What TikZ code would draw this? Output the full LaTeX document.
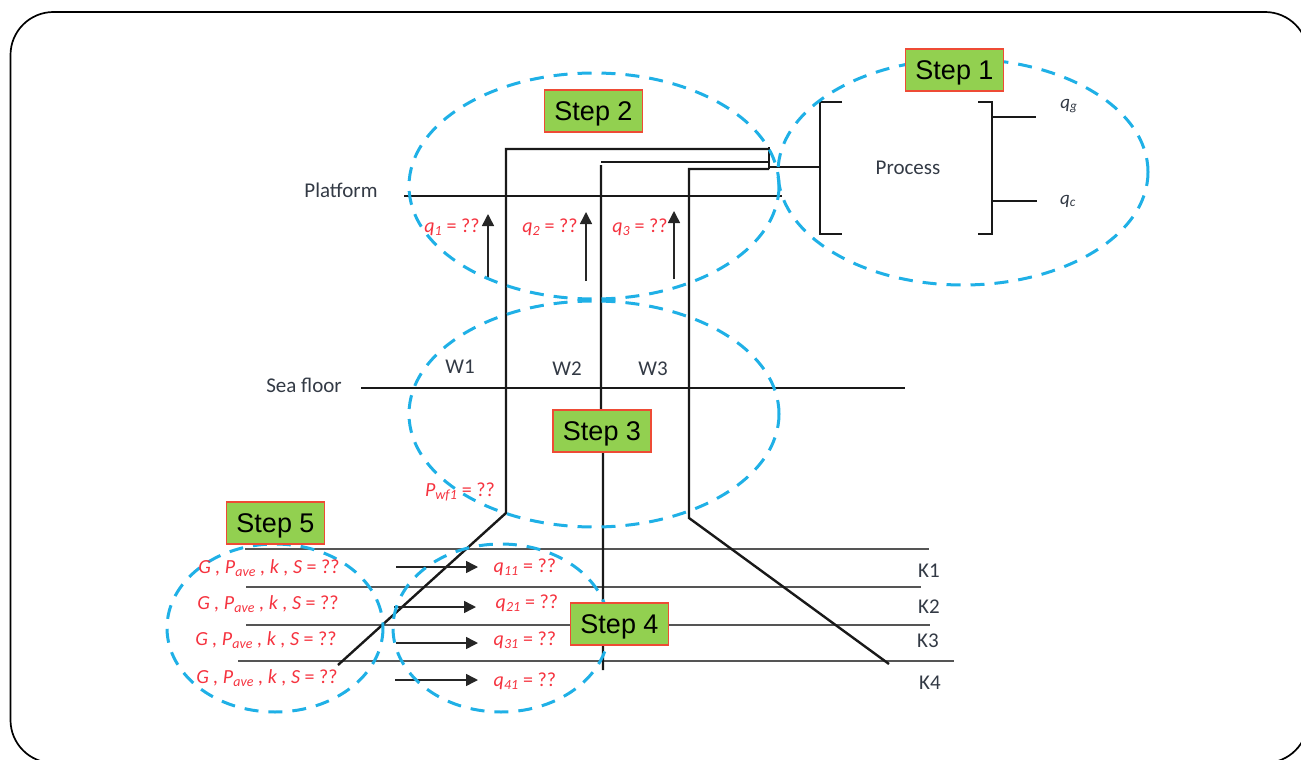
\documentclass[tikz,border=0pt]{standalone}
\usepackage{fontspec}
\setmainfont{Carlito}
\newfontfamily\stepfont{Liberation Sans}
\usetikzlibrary{arrows.meta}
\definecolor{stepgreen}{HTML}{92D050}
\definecolor{stepred}{HTML}{EE4B35}
\definecolor{dashblue}{HTML}{1FB0E6}
\definecolor{labred}{HTML}{F5333F}
\definecolor{kgray}{HTML}{555555}
\definecolor{inkdark}{HTML}{333A45}
\tikzset{
  x=1pt,y=-1pt,
  stepellipse/.style={draw=dashblue,line width=3pt,dash pattern=on 14pt off 10pt},
  stepbox/.style={draw=stepred,fill=stepgreen,line width=1.2pt,minimum width=98pt,minimum height=42pt,inner sep=0pt,text depth=0pt,font=\stepfont\fontsize{27}{29}\selectfont,text=black},
  pipe/.style={draw=black!90,line width=2.4pt},
  kline/.style={draw=kgray,line width=1.8pt},
  thin arrow/.style={draw=black!85,line width=1.5pt,-{Triangle[length=12pt,width=12pt]}},
  redlab/.style={text=labred,font=\itshape\fontsize{20}{22}\selectfont,inner sep=0pt},
  inklab/.style={text=inkdark,font=\fontsize{21}{23}\selectfont,inner sep=0pt},
  smalllab/.style={text=inkdark,font=\itshape\fontsize{19}{21}\selectfont,inner sep=0pt},
}
\newcommand{\eqq}{\textup{ = ??}}
\newcommand{\gline}{G , P\textsubscript{ave} , k , S\eqq}
\begin{document}
\begin{tikzpicture}
\useasboundingbox (0,0) rectangle (1301,760);
\begin{scope}
\clip (0,0) rectangle (1301,760);
\draw[black,line width=1.7pt,rounded corners=43pt] (10.5,12) rectangle (1308,763);
\end{scope}
% gray layer lines
\coordinate (k1a) at (245,549); \coordinate (k1b) at (929,549);
\coordinate (k2a) at (246,587); \coordinate (k2b) at (921,587);
\coordinate (k3a) at (246,625); \coordinate (k3b) at (930,625);
\coordinate (k4a) at (238,661); \coordinate (k4b) at (954,661);
\draw[kline] (k1a) -- (k1b);
\draw[kline] (k2a) -- (k2b);
\draw[kline] (k3a) -- (k3b);
\draw[kline] (k4a) -- (k4b);
% platform and sea floor
\coordinate (pa) at (404,196); \coordinate (pb) at (782,196);
\coordinate (sa) at (361,388); \coordinate (sb) at (905,388);
\draw[pipe] (pa) -- (pb);
\draw[pipe] (sa) -- (sb);
% manifold
\coordinate (mt) at (769,147); \coordinate (mb) at (769,169); \coordinate (mo) at (769,167);
\coordinate (lt) at (842,102); \coordinate (lb) at (842,234);
\coordinate (rt) at (978,102); \coordinate (rb) at (978,234);
\draw[pipe] (mt) -- (mb);
\draw[pipe] (mo) -- (820,167);
\draw[pipe] (lt) -- (820,102) -- (820,234) -- (lb);
\draw[pipe] (rt) -- (992,102) -- (992,234) -- (rb);
\coordinate (qga) at (992,117); \coordinate (qgb) at (1036,117);
\coordinate (qca) at (992,201); \coordinate (qcb) at (1037,201);
\draw[pipe] (qga) -- (qgb);
\draw[pipe] (qca) -- (qcb);
% wells
\coordinate (w1t) at (769,149); \coordinate (w1k) at (506,513); \coordinate (w1e) at (338,665);
\coordinate (w2t) at (769,162); \coordinate (w2e) at (603,670);
\coordinate (w3t) at (769,169); \coordinate (w3k) at (689,518); \coordinate (w3e) at (889,664);
\draw[pipe] (w1t) -- (506,149) -- (w1k) -- (w1e);
\draw[pipe] (w2t) -- (601,162);
\draw[pipe] (601,165) -- (601,415) -- (603,430) -- (w2e);
\draw[pipe] (w3t) -- (689,169) -- (w3k) -- (w3e);
% arrows
\coordinate (u1a) at (488,278); \coordinate (u1b) at (488,214);
\coordinate (u2a) at (586,281); \coordinate (u2b) at (586,212);
\coordinate (u3a) at (674,279); \coordinate (u3b) at (674,211);
\draw[thin arrow] (u1a) -- (u1b);
\draw[thin arrow] (u2a) -- (u2b);
\draw[thin arrow] (u3a) -- (u3b);
\coordinate (r1a) at (396,567); \coordinate (r1b) at (478,567);
\coordinate (r2a) at (394,607); \coordinate (r2b) at (476,607);
\coordinate (r3a) at (396,643); \coordinate (r3b) at (478,643);
\coordinate (r4a) at (395,680); \coordinate (r4b) at (478,680);
\draw[thin arrow] (r1a) -- (r1b);
\draw[thin arrow] (r2a) -- (r2b);
\draw[thin arrow] (r3a) -- (r3b);
\draw[thin arrow] (r4a) -- (r4b);
% ellipses
\draw[stepellipse] (594,186) ellipse [x radius=185,y radius=113];
\draw[stepellipse] (963,172) ellipse [x radius=185,y radius=113];
\draw[stepellipse] (594,414) ellipse [x radius=185,y radius=113];
\draw[stepellipse] (275,628) ellipse [x radius=108,y radius=84];
\draw[stepellipse] (501,628) ellipse [x radius=108,y radius=84];
% step boxes
\node[stepbox] (s1) at (954.5,70) {Step 1};
\node[stepbox] (s2) at (593.5,111) {Step 2};
\node[stepbox] (s3) at (602,431) {Step 3};
\node[stepbox] (s4) at (619.5,624) {Step 4};
\node[stepbox] (s5) at (275.5,523) {Step 5};
% labels
\node[inklab] (lplat) at (341,190) {Platform};
\node[inklab] (lsea) at (304,385) {Sea floor};
\node[inklab] (lw1) at (460,367) {W1};
\node[inklab] (lw2) at (567,369) {W2};
\node[inklab] (lw3) at (653,369) {W3};
\node[inklab] (lproc) at (908,168) {Process};
\node[smalllab] (lqg) at (1069,106) {q\textsubscript{g}};
\node[smalllab] (lqc) at (1068,201) {q\textsubscript{c}};
\node[inklab] (lk1) at (929,571) {K1};
\node[inklab] (lk2) at (929,607) {K2};
\node[inklab] (lk3) at (928,641) {K3};
\node[inklab] (lk4) at (930,683) {K4};
\node[redlab] (q1) at (452,227) {q\textsubscript{1}\eqq};
\node[redlab] (q2) at (550,227) {q\textsubscript{2}\eqq};
\node[redlab] (q3) at (640,227) {q\textsubscript{3}\eqq};
\node[redlab] (pwf) at (460,492) {P\textsubscript{wf1}\eqq};
\node[redlab] (g1) at (269,568) {\gline};
\node[redlab] (g2) at (268,604) {\gline};
\node[redlab] (g3) at (266,640) {\gline};
\node[redlab] (g4) at (267,678) {\gline};
\node[redlab] (q11) at (525,567) {q\textsubscript{11}\eqq};
\node[redlab] (q21) at (527,603) {q\textsubscript{21}\eqq};
\node[redlab] (q31) at (525,640) {q\textsubscript{31}\eqq};
\node[redlab] (q41) at (525,681) {q\textsubscript{41}\eqq};
\end{tikzpicture}
\end{document}
